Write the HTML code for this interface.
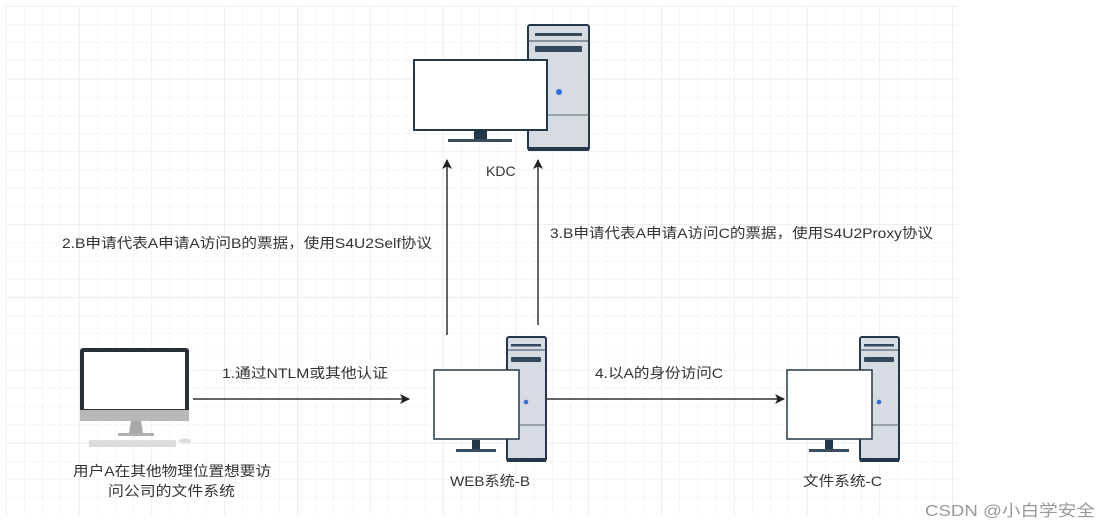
<!DOCTYPE html>
<html><head><meta charset="utf-8"><style>
html,body{margin:0;padding:0;background:#fff;width:1112px;height:528px;overflow:hidden}
text{font-family:"Liberation Sans","Noto Sans CJK SC",sans-serif;fill:#333;font-size:14px}
</style></head><body>
<svg width="1112" height="528" xmlns="http://www.w3.org/2000/svg">
<defs>
<pattern id="g" x="6" y="6" width="18.2" height="18.2" patternUnits="userSpaceOnUse">
<path d="M0 0H18.2M0 0V18.2" stroke="#ececec" stroke-width="1" fill="none"/>
</pattern>
<pattern id="G" x="6" y="6" width="72.8" height="72.8" patternUnits="userSpaceOnUse">
<path d="M0 0H72.8M0 0V72.8" stroke="#e2e2e2" stroke-width="1" fill="none"/>
</pattern>
<marker id="a" markerWidth="10" markerHeight="10" refX="9" refY="5" orient="auto" markerUnits="userSpaceOnUse">
<path d="M0 0L10 5L0 10L2.5 5Z" fill="#222"/>
</marker>
</defs>
<rect x="6" y="6" width="952" height="509" fill="url(#g)"/>
<rect x="6" y="6" width="952" height="509" fill="url(#G)"/>

<!-- KDC -->
<rect x="528" y="25" width="61" height="125" rx="2" fill="#d6dce1" stroke="#23384a" stroke-width="2"/>
<rect x="528" y="147" width="61" height="4" fill="#23384a"/>
<rect x="535" y="33" width="47" height="3" fill="#34495e"/>
<line x1="528" y1="41" x2="589" y2="41" stroke="#34495e" stroke-width="1"/>
<rect x="535" y="46" width="47" height="6" rx="1" fill="#34495e"/>
<circle cx="559" cy="92" r="3" fill="#2b6fe0"/>
<line x1="528" y1="115" x2="589" y2="115" stroke="#5a6a78" stroke-width="1"/>
<rect x="414" y="60" width="133" height="70" fill="#fff" stroke="#23384a" stroke-width="2"/>
<rect x="474" y="131" width="13" height="9" fill="#23384a"/>
<rect x="448" y="139" width="64" height="3" fill="#3a4d5e"/>
<text x="486" y="176">KDC</text>

<!-- arrows up -->
<line x1="447" y1="335" x2="447" y2="160" stroke="#333" stroke-width="1.5" marker-end="url(#a)"/>
<line x1="538" y1="325" x2="538" y2="160" stroke="#333" stroke-width="1.5" marker-end="url(#a)"/>
<text x="62" y="248" textLength="370" lengthAdjust="spacingAndGlyphs">2.B申请代表A申请A访问B的票据，使用S4U2Self协议</text>
<text x="550" y="238" textLength="383" lengthAdjust="spacingAndGlyphs">3.B申请代表A申请A访问C的票据，使用S4U2Proxy协议</text>

<!-- User -->
<rect x="80" y="348" width="109" height="72" rx="3" fill="#2a2f38"/>
<rect x="80" y="410" width="109" height="11" fill="#b8b8b8"/>
<rect x="84" y="352" width="101" height="57" fill="#fff"/>
<path d="M131 421H141L143 433H129Z" fill="#a8a8a8"/>
<rect x="118" y="433" width="36" height="3" fill="#b0b0b0"/>
<rect x="89" y="440" width="87" height="7" fill="#dcdcdc"/>
<ellipse cx="185" cy="441" rx="6" ry="2.5" fill="#dcdcdc"/>
<text x="73" y="476" textLength="198" lengthAdjust="spacingAndGlyphs">用户A在其他物理位置想要访</text>
<text x="108" y="496" textLength="127" lengthAdjust="spacingAndGlyphs">问公司的文件系统</text>

<line x1="193" y1="399" x2="409" y2="399" stroke="#333" stroke-width="1.5" marker-end="url(#a)"/>
<text x="222" y="378" textLength="166" lengthAdjust="spacingAndGlyphs">1.通过NTLM或其他认证</text>

<!-- WEB B -->
<g id="srv">
<rect x="507" y="337" width="39" height="124" rx="2" fill="#d6dce1" stroke="#23384a" stroke-width="2"/>
<rect x="507" y="458" width="39" height="4" fill="#23384a"/>
<rect x="511" y="344" width="30" height="2.5" fill="#34495e"/>
<line x1="507" y1="350" x2="546" y2="350" stroke="#34495e" stroke-width="1"/>
<rect x="511" y="357" width="30" height="5" rx="1" fill="#34495e"/>
<circle cx="526" cy="402" r="2.3" fill="#2b6fe0"/>
<line x1="507" y1="425" x2="546" y2="425" stroke="#5a6a78" stroke-width="1"/>
<rect x="434" y="370" width="85" height="69" fill="#fff" stroke="#23384a" stroke-width="1.5"/>
<rect x="472" y="440" width="8" height="10" fill="#23384a"/>
<rect x="456" y="449" width="40" height="3" fill="#3a4d5e"/>
</g>
<text x="450" y="486" textLength="80" lengthAdjust="spacingAndGlyphs">WEB系统-B</text>

<line x1="546" y1="399" x2="784" y2="399" stroke="#333" stroke-width="1.5" marker-end="url(#a)"/>
<text x="595" y="378" textLength="128" lengthAdjust="spacingAndGlyphs">4.以A的身份访问C</text>

<use href="#srv" x="353" y="0"/>
<text x="803" y="486" textLength="79" lengthAdjust="spacingAndGlyphs">文件系统-C</text>

<text x="925" y="516" style="font-size:16px;fill:#999" textLength="170" lengthAdjust="spacingAndGlyphs">CSDN @小白学安全</text>
</svg>
</body></html>
